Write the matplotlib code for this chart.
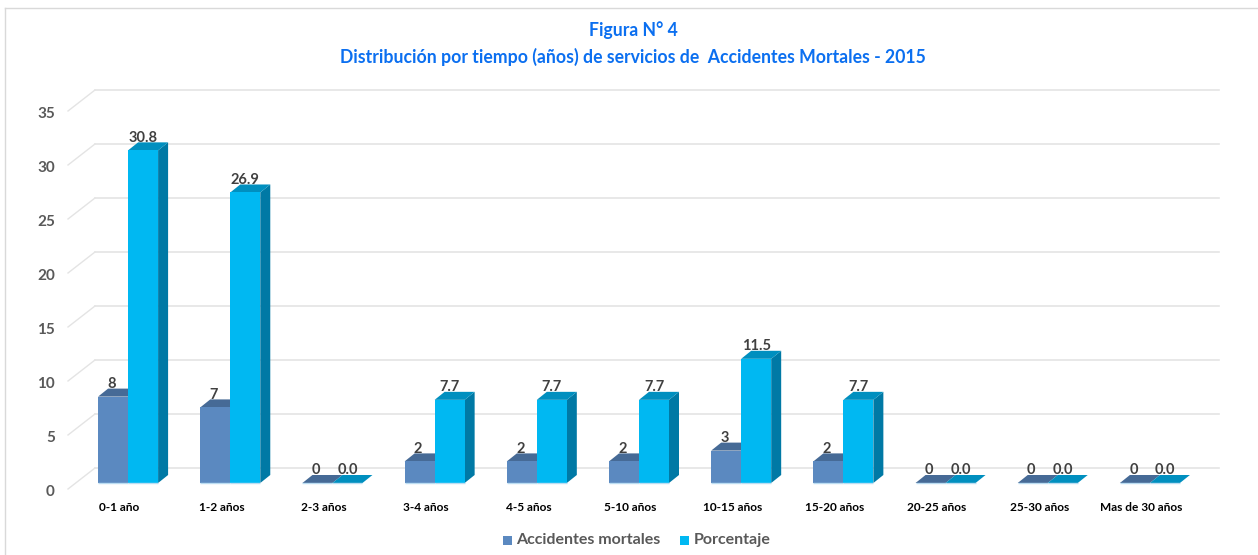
import matplotlib
matplotlib.use('Agg')
import matplotlib.pyplot as plt
from matplotlib.patches import Polygon, Rectangle
from matplotlib.transforms import ScaledTranslation

categorias = ['0-1 año', '1-2 años', '2-3 años', '3-4 años', '4-5 años', '5-10 años',
              '10-15 años', '15-20 años', '20-25 años', '25-30 años', 'Mas de 30 años']
accidentes = [8, 7, 0, 2, 2, 2, 3, 2, 0, 0, 0]
porcentaje = [30.8, 26.9, 0.0, 7.7, 7.7, 7.7, 11.5, 7.7, 0.0, 0.0, 0.0]
ticks_y = [0, 5, 10, 15, 20, 25, 30, 35]

plt.rcParams['font.family'] = ['Lato', 'DejaVu Sans']

W, H = 1258, 555
fig = plt.figure(figsize=(W / 100, H / 100), dpi=100)

# plot area in pixels: value 0 sits on y=483, value 35 on y=105
left, right, top, bottom = 77, 1201, 105, 483
ax = fig.add_axes([left / W, 1 - bottom / H, (right - left) / W, (bottom - top) / H])
ax.set_xlim(-0.5, 10.5)
ax.set_ylim(0, 35)
ax.patch.set_visible(False)
for s in ax.spines.values():
    s.set_visible(False)

px_x = (right - left) / 11
px_y = (bottom - top) / 35
dx, dy = 10 / px_x, 8 / px_y       # depth of the 3d bars
w = 30 / px_x


def bar3d(x0, v, front, topc, side):
    x1 = x0 + w
    ax.add_patch(Polygon([(x1, 0), (x1 + dx, dy), (x1 + dx, v + dy), (x1, v)], fc=side, ec='none', clip_on=False, zorder=3))
    ax.add_patch(Polygon([(x0, v), (x0 + dx, v + dy), (x1 + dx, v + dy), (x1, v)], fc=topc, ec='none', clip_on=False, zorder=3))
    ax.add_patch(Rectangle((x0, 0), w, v, fc=front, ec='none', clip_on=False, zorder=3))
    ax.plot([x0, x1], [0, 0], color='#BBDDF2', lw=1, clip_on=False, zorder=3.5, solid_capstyle='butt')


# gridlines on the back wall plus the diagonal on the side wall
back_y = 15 / px_y
front_y = -6 / px_y
for t in ticks_y:
    ax.plot([(95 - left) / px_x - 0.5, (1219 - left) / px_x - 0.5], [t + back_y] * 2,
            color='#E4E4E4', lw=1.2, clip_on=False, zorder=1)
    ax.plot([(68 - left) / px_x - 0.5, (95 - left) / px_x - 0.5], [t + front_y, t + back_y],
            color='#E4E4E4', lw=1.0, clip_on=False, zorder=1)

for i in range(len(categorias)):
    bar3d(i - w, accidentes[i], '#5B89C0', '#466A96', '#3F6289')
    bar3d(i, porcentaje[i], '#00B8F2', '#008FBF', '#0079A5')

for i in range(len(categorias)):
    ax.annotate(str(accidentes[i]), (i - w + w / 2 - 0.015, accidentes[i]), xytext=(0, 4),
                textcoords='offset points', ha='center', va='bottom', fontsize=10.5,
                fontweight='bold', color='#404040', zorder=5)
    ax.annotate('%.1f' % porcentaje[i], (i + w / 2, porcentaje[i]), xytext=(0, 4),
                textcoords='offset points', ha='center', va='bottom', fontsize=10.5,
                fontweight='bold', color='#404040', zorder=5)

ax.set_xticks(range(len(categorias)))
ax.set_xticklabels(categorias, fontsize=8.6, fontweight='bold', color='#000000')
ax.set_yticks(ticks_y)
ax.set_yticklabels([str(t) for t in ticks_y], fontsize=11, fontweight='bold', color='#595959')
ax.tick_params(axis='both', length=0)
ax.tick_params(axis='x', pad=14)
ax.tick_params(axis='y', pad=16)
for lab in ax.get_xticklabels():
    lab.set_transform(lab.get_transform() + ScaledTranslation(-8.5 / 100, 0, fig.dpi_scale_trans))
for lab in ax.get_yticklabels():
    lab.set_transform(lab.get_transform() + ScaledTranslation(0, -7 / 100, fig.dpi_scale_trans))

# frame of the chart (only left and top are visible)
fig.add_artist(plt.Line2D([5 / W, 5 / W], [0, 1 - 8 / H], color='#D9D9D9', lw=1))
fig.add_artist(plt.Line2D([5 / W, 1], [1 - 8 / H, 1 - 8 / H], color='#D9D9D9', lw=1))

fig.text(633 / W, 1 - 30 / H, 'Figura N° 4', ha='center', va='center', fontsize=12.7,
         fontweight='bold', color='#0B6FF0')
fig.text(633 / W, 1 - 57 / H, 'Distribución por tiempo (años) de servicios de  Accidentes Mortales - 2015',
         ha='center', va='center', fontsize=12.7, fontweight='bold', color='#0B6FF0')

# legend
fig.patches.append(Rectangle((503 / W, 1 - 545 / H), 9 / W, 9 / H, transform=fig.transFigure, fc='#5B89C0', ec='none'))
fig.text(516 / W, 1 - 540 / H, 'Accidentes mortales', va='center', fontsize=11.5, fontweight='bold', color='#595959')
fig.patches.append(Rectangle((680 / W, 1 - 545 / H), 9 / W, 9 / H, transform=fig.transFigure, fc='#00B8F2', ec='none'))
fig.text(694 / W, 1 - 540 / H, 'Porcentaje', va='center', fontsize=11.5, fontweight='bold', color='#595959')

fig.savefig('out.png', dpi=100)
